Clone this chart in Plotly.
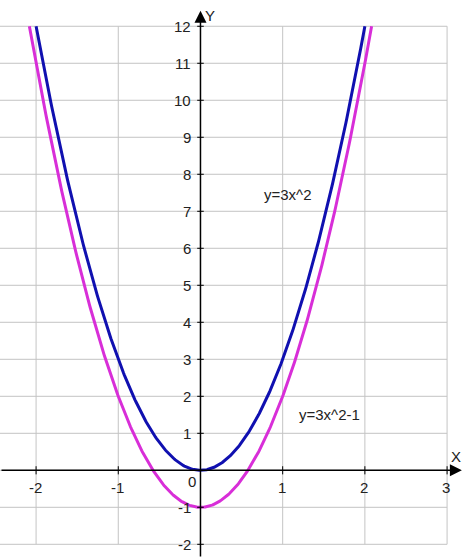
import numpy as np
import plotly.graph_objects as go

# --- data ---
curve_names = ["y=3x^2", "y=3x^2-1"]
curve_a = [3, 3]          # coefficient of x^2
curve_c = [0, -1]         # constant term
curve_colors = ["#1010B0", "#D82ED8"]
y_max_curve = 12

x_ticks = [-2, -1, 1, 2, 3]
y_ticks = [-2, -1, 1, 2, 3, 4, 5, 6, 7, 8, 9, 10, 11, 12]
grid_x = [-2.5, -2, -1, 0, 1, 2, 3]
grid_y = list(range(-2, 13))

label_pos = {"y=3x^2": (0.75, 7.45), "y=3x^2-1": (1.18, 1.52)}

X_RANGE = [-2.439, 3.291]
Y_RANGE = [-2.37, 12.71]
FONT = "Liberation Sans"

fig = go.Figure()

# grid
shapes = []
for gx in grid_x:
    shapes.append(dict(type="line", x0=gx, x1=gx, y0=grid_y[0], y1=grid_y[-1],
                       line=dict(color="#C4C4C4", width=1), layer="below"))
for gy in grid_y:
    shapes.append(dict(type="line", x0=grid_x[0], x1=grid_x[-1], y0=gy, y1=gy,
                       line=dict(color="#C4C4C4", width=1), layer="below"))
# tick marks
for t in x_ticks:
    shapes.append(dict(type="line", x0=t, x1=t, y0=-0.11, y1=0.11,
                       line=dict(color="black", width=1)))
for t in y_ticks:
    shapes.append(dict(type="line", x0=-0.04, x1=0.04, y0=t, y1=t,
                       line=dict(color="black", width=1)))

# curves
for name, a, c, col in zip(curve_names, curve_a, curve_c, curve_colors):
    xm = np.sqrt((y_max_curve - c) / a)
    xs = np.linspace(-xm, xm, 400)
    ys = a * xs ** 2 + c
    fig.add_trace(go.Scatter(x=xs, y=ys, mode="lines", name=name,
                             line=dict(color=col, width=3), hoverinfo="skip"))

annotations = []
# axes with arrows
annotations.append(dict(x=3.18, y=0, ax=X_RANGE[0], ay=0, xref="x", yref="y",
                        axref="x", ayref="y", showarrow=True, arrowhead=2,
                        arrowsize=1.6, arrowwidth=1.5, arrowcolor="black", text=""))
annotations.append(dict(x=0, y=12.42, ax=0, ay=Y_RANGE[0], xref="x", yref="y",
                        axref="x", ayref="y", showarrow=True, arrowhead=2,
                        arrowsize=1.6, arrowwidth=1.5, arrowcolor="black", text=""))
tf = dict(family=FONT, size=15, color="#222222")
for t in x_ticks:
    annotations.append(dict(x=t, y=0, text=str(t), showarrow=False, yshift=-17,
                            xshift=-1, font=tf))
for t in y_ticks:
    annotations.append(dict(x=0, y=t, text=str(t), showarrow=False, xanchor="right",
                            xshift=-7, font=tf))
annotations.append(dict(x=0, y=0, text="0", showarrow=False, xshift=-8, yshift=-11, font=tf))
annotations.append(dict(x=0, y=12.42, text="Y", showarrow=False, xanchor="left",
                        xshift=3, yshift=-5, font=tf))
annotations.append(dict(x=3.18, y=0, text="X", showarrow=False, xshift=-6,
                        yshift=14, font=tf))
for name in curve_names:
    lx, ly = label_pos[name]
    annotations.append(dict(x=lx, y=ly, text=name, showarrow=False, xanchor="left",
                            font=dict(family=FONT, size=15, color="#222222")))

fig.update_layout(
    width=471, height=558, margin=dict(l=0, r=0, t=0, b=0),
    plot_bgcolor="white", paper_bgcolor="white", showlegend=False,
    xaxis=dict(range=X_RANGE, visible=False, fixedrange=True),
    yaxis=dict(range=Y_RANGE, visible=False, fixedrange=True),
    shapes=shapes, annotations=annotations,
)
fig.write_html("out.html", config={"displayModeBar": False},
               post_script="document.body.style.margin='0px';document.body.style.overflow='hidden';")
